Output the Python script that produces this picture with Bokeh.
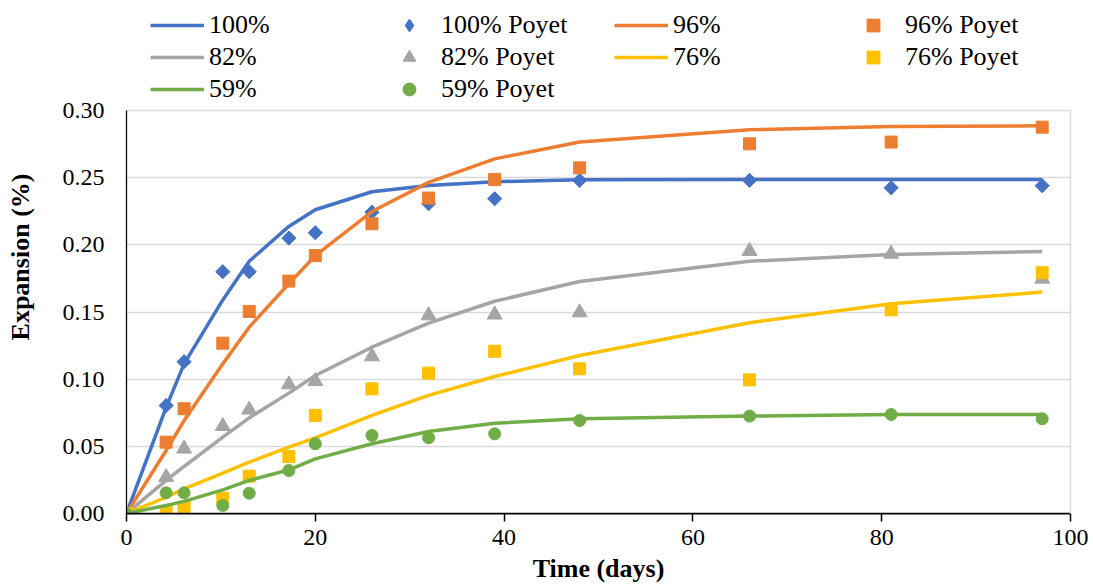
import numpy as np
from bokeh.plotting import figure
from bokeh.models import (Range1d, FixedTicker, NumeralTickFormatter, Legend,
                          LegendItem, ColumnDataSource, LinearAxis)
from bokeh.embed import file_html
from bokeh.resources import INLINE

# Time after casting (days)
days = [0, 4.2, 6.1, 10.2, 13.0, 17.2, 20.0, 26, 32, 39, 48, 66, 81, 97]

# Model expansion curves (%) for each relative humidity
model_100 = [0, 0.0790, 0.1114, 0.1590, 0.1878, 0.2137, 0.2261, 0.2395, 0.2442, 0.2470, 0.2484, 0.2487, 0.2487, 0.2487]
model_96 = [0, 0.0469, 0.0692, 0.1114, 0.1387, 0.1710, 0.1920, 0.2248, 0.2465, 0.2640, 0.2765, 0.2857, 0.2881, 0.2886]
model_82 = [0, 0.0246, 0.0350, 0.0568, 0.0712, 0.0896, 0.1027, 0.1238, 0.1417, 0.1580, 0.1727, 0.1878, 0.1928, 0.1950]
model_76 = [0, 0.0121, 0.0184, 0.0300, 0.0382, 0.0494, 0.0563, 0.0730, 0.0879, 0.1020, 0.1176, 0.1420, 0.1561, 0.1648]
model_59 = [0, 0.0060, 0.0090, 0.0176, 0.0246, 0.0325, 0.0407, 0.0519, 0.0610, 0.0672, 0.0705, 0.0725, 0.0737, 0.0737]

# Measured expansion (%) from Poyet
poyet_100 = [0, 0.0804, 0.1130, 0.1800, 0.1800, 0.2050, 0.2090, 0.2243, 0.2306, 0.2343, 0.2480, 0.2480, 0.2425, 0.2440]
poyet_96 = [0, 0.0531, 0.0780, 0.1268, 0.1504, 0.1730, 0.1920, 0.2157, 0.2348, 0.2487, 0.2573, 0.2752, 0.2765, 0.2876]
poyet_82 = [0, 0.0270, 0.0482, 0.0650, 0.0772, 0.0960, 0.0985, 0.1169, 0.1474, 0.1480, 0.1496, 0.1953, 0.1933, 0.1747]
poyet_76 = [0, 0.0010, 0.0047, 0.0114, 0.0278, 0.0424, 0.0730, 0.0928, 0.1045, 0.1208, 0.1077, 0.0995, 0.1516, 0.1792]
poyet_59 = [0, 0.0154, 0.0154, 0.0060, 0.0151, 0.0320, 0.0519, 0.0581, 0.0564, 0.0593, 0.0692, 0.0725, 0.0737, 0.0705]

x_ticks = [0, 20, 40, 60, 80, 100]
y_ticks = [0.00, 0.05, 0.10, 0.15, 0.20, 0.25, 0.30]
Y_MAX = 0.30

# name, model, measured, colour, marker, size, angle, legend marker
series = [
    ("100%", model_100, poyet_100, "#4472C4", "square", 10, np.pi / 4, "diamond"),
    ("96%", model_96, poyet_96, "#ED7D31", "square", 12, 0.0, None),
    ("82%", model_82, poyet_82, "#A5A5A5", "triangle", 15, 0.0, None),
    ("76%", model_76, poyet_76, "#FFC000", "square", 12, 0.0, None),
    ("59%", model_59, poyet_59, "#70AD47", "circle", 12, 0.0, None),
]

FONT = "Liberation Serif"
GRID = "#D9D9D9"

# The frame reaches the top of the canvas so the legend can sit above the
# 0.30 line; the plotted area itself is bounded by the axes below.
FRAME_H = 513
PLOT_H = 403
y_top = Y_MAX * FRAME_H / PLOT_H

p = figure(frame_width=944, frame_height=FRAME_H,
           min_border_left=126, min_border_top=0, min_border_right=23,
           min_border_bottom=60,
           x_range=Range1d(0, 100), y_range=Range1d(0, y_top),
           output_backend="svg", toolbar_location=None,
           background_fill_color="white", border_fill_color="white")

p.outline_line_color = None

p.xgrid.visible = False
p.ygrid.grid_line_color = GRID
p.ygrid.grid_line_width = 1.5

p.xaxis.ticker = FixedTicker(ticks=x_ticks)
p.yaxis.ticker = FixedTicker(ticks=y_ticks)
p.yaxis.formatter = NumeralTickFormatter(format="0.00")
p.yaxis.bounds = (0, Y_MAX)

for ax in (p.xaxis[0], p.yaxis[0]):
    ax.axis_line_color = "black"
    ax.major_label_text_font = FONT
    ax.major_label_text_font_size = "24px"
    ax.major_label_text_color = "black"
    ax.axis_label_text_font = FONT
    ax.axis_label_text_font_size = "26px"
    ax.axis_label_text_font_style = "bold"
    ax.axis_label_text_color = "black"
    ax.minor_tick_line_color = None

p.xaxis.axis_label = "Time (days)"
p.xaxis.axis_line_width = 1.75
p.xaxis.major_tick_in = 0
p.xaxis.major_tick_out = 8
p.xaxis.major_tick_line_color = "black"
p.xaxis.major_tick_line_width = 1.5
p.xaxis.major_label_standoff = 8
p.xaxis.axis_label_standoff = 6

p.yaxis.axis_label = "Expansion (%)"
p.yaxis.axis_line_width = 1.25
p.yaxis.major_tick_in = 0
p.yaxis.major_tick_out = 0
p.yaxis.major_label_standoff = 22
p.yaxis.axis_label_standoff = 25

# light border on the right side of the plot area
right = LinearAxis(ticker=FixedTicker(ticks=[]), bounds=(0, Y_MAX),
                   axis_line_color=GRID, axis_line_width=1.5,
                   major_tick_line_color=None, minor_tick_line_color=None,
                   major_label_text_font_size="0px")
p.add_layout(right, "right")

items = []
for name, model, poyet, color, marker, size, angle, key_marker in series:
    src = ColumnDataSource(dict(t=days, model=model, poyet=poyet))
    line_r = p.line("t", "model", source=src, line_color=color, line_width=3.5)
    key_r = None
    if key_marker is not None:
        # legend keys are drawn unrotated: a slim diamond that stays hidden
        # under the rotated squares supplies this entry's key
        key_r = p.scatter("t", "poyet", source=src, marker=key_marker,
                          size=13, fill_color=color, line_color=color)
    pt_r = p.scatter("t", "poyet", source=src, marker=marker, size=size,
                     angle=angle, fill_color=color, line_color=color)
    items.append(LegendItem(label=name, renderers=[line_r]))
    items.append(LegendItem(label=name + " Poyet",
                            renderers=[key_r if key_r is not None else pt_r]))

legend = Legend(items=items, orientation="horizontal", ncols=4,
                location=(24, 408),
                label_text_font=FONT, label_text_font_size="26px",
                label_text_color="black",
                glyph_width=54, glyph_height=32, label_height=32,
                label_width=173, label_standoff=5, spacing=0, padding=3,
                margin=0, border_line_color=None, background_fill_alpha=0)
p.add_layout(legend, "center")

open("out.html", "w").write(file_html(p, INLINE))
